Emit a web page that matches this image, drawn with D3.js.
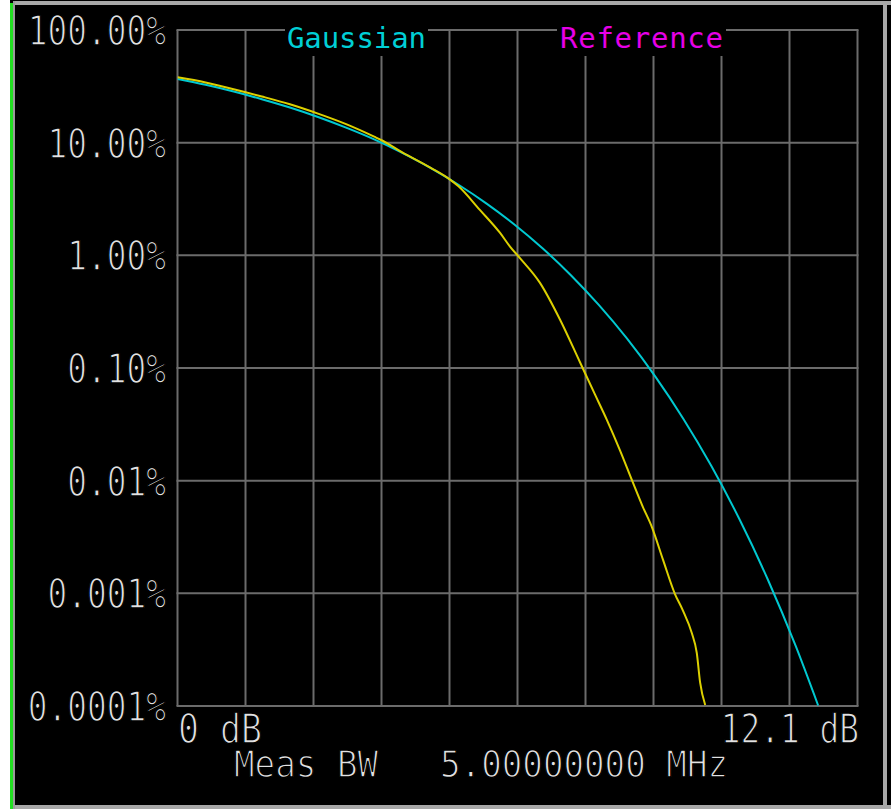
<!DOCTYPE html>
<html>
<head>
<meta charset="utf-8">
<script src="https://cdn.jsdelivr.net/npm/d3@7"></script>
<style>
  html, body { margin: 0; padding: 0; background: #fff; }
  svg { display: block; }
</style>
</head>
<body>
<svg id="chart" width="891" height="809"></svg>
<script>
// CCDF of signal power above average (dB) vs. probability (%)
const xMaxDb = 12.1;
const xDivisions = 10;
const yTicks = [100, 10, 1, 0.1, 0.01, 0.001, 0.0001];
const yTickLabels = ["100.00%", "10.00%", "1.00%", "0.10%", "0.01%", "0.001%", "0.0001%"];

// Gaussian trace: [dB, %]
const gaussianDb  = [0, 0.5, 1.0, 1.5, 2.0, 2.5, 3.0, 3.5, 4.0, 4.5, 5.0, 5.5, 6.0, 6.5, 7.0, 7.5, 8.0, 8.5, 9.0, 9.5, 10.0, 10.5, 11.0, 11.4];
const gaussianPct = [36.8, 32.6, 28.4, 24.3, 20.5, 16.9, 13.6, 10.7, 8.11, 5.97, 4.23, 2.88, 1.87, 1.15, 0.666, 0.361, 0.182, 0.0843, 0.0355, 0.0135, 0.00454, 0.00134, 0.000341, 0.000101];

// Measured trace: [dB, %]
const measuredDb  = [0, 0.5, 1.0, 1.5, 2.0, 2.5, 3.0, 3.5, 3.65, 4.0, 4.5, 4.85, 5.0, 5.38, 5.74, 5.92, 6.09, 6.45, 6.81, 7.16, 7.43, 7.64, 7.87, 8.09, 8.28, 8.44, 8.64, 8.85, 8.99, 9.15, 9.24, 9.30, 9.39];
const measuredPct = [38.0, 34.2, 29.8, 25.7, 21.9, 18.1, 14.6, 11.3, 10.4, 8.2, 6.0, 4.7, 4.1, 2.53, 1.58, 1.19, 0.95, 0.57, 0.267, 0.113, 0.058, 0.0347, 0.0188, 0.0100, 0.00586, 0.00389, 0.00198, 0.00099, 0.00071, 0.000446, 0.000296, 0.000161, 0.000102];

const legendItems = [
  { name: "Gaussian",  color: "#00cfd6" },
  { name: "Reference", color: "#e600e6" }
];
const xStartLabel = "0 dB";
const xEndLabel = "12.1 dB";
const bwLabel = "Meas BW";
const bwValue = "5.00000000 MHz";

const svg = d3.select("#chart");
const W = 891, H = 809;

// instrument screen frame
svg.append("rect").attr("x", 0).attr("y", 0).attr("width", W).attr("height", H).attr("fill", "#000");
svg.append("rect").attr("x", 0).attr("y", 0).attr("width", 10).attr("height", H).attr("fill", "#fff");
svg.append("rect").attr("x", 10).attr("y", 3).attr("width", 3).attr("height", H - 3).attr("fill", "#22e022");
svg.append("rect").attr("x", 13).attr("y", 1).attr("width", W - 13).attr("height", 4).attr("fill", "#a8a8a8");
svg.append("rect").attr("x", 13).attr("y", 805).attr("width", W - 13).attr("height", 4).attr("fill", "#a8a8a8");
svg.append("rect").attr("x", 13).attr("y", 1).attr("width", 2).attr("height", H - 1).attr("fill", "#9a9a9a");
svg.append("rect").attr("x", 883).attr("y", 1).attr("width", 4).attr("height", H - 1).attr("fill", "#a8a8a8");

const plotLeft = 177.5, plotRight = 857.5, plotTop = 30, plotBottom = 706;

const x = d3.scaleLinear().domain([0, xMaxDb]).range([plotLeft, plotRight]);
const y = d3.scaleLog().domain([0.0001, 100]).range([plotBottom, plotTop]);

const gridColor = "#6b6b6b";
const xGrid = d3.range(xDivisions + 1).map(i => i * xMaxDb / xDivisions);

const grid = svg.append("g");
grid.selectAll("line.v").data(xGrid).join("line")
  .attr("class", "v")
  .attr("x1", d => x(d)).attr("x2", d => x(d))
  .attr("y1", plotTop).attr("y2", plotBottom)
  .attr("stroke", gridColor).attr("stroke-width", 2);
grid.selectAll("line.h").data(yTicks).join("line")
  .attr("class", "h")
  .attr("x1", plotLeft - 1).attr("x2", plotRight + 1)
  .attr("y1", d => y(d)).attr("y2", d => y(d))
  .attr("stroke", gridColor).attr("stroke-width", 2);

// traces
svg.append("clipPath").attr("id", "plotClip")
  .append("rect").attr("x", plotLeft).attr("y", plotTop).attr("width", plotRight - plotLeft).attr("height", plotBottom - plotTop + 1);

const line = d3.line().x(d => x(d[0])).y(d => y(d[1])).curve(d3.curveMonotoneX);
const gaussian = d3.zip(gaussianDb, gaussianPct);
const measured = d3.zip(measuredDb, measuredPct);

const traces = svg.append("g").attr("clip-path", "url(#plotClip)");
traces.append("path").datum(gaussian).attr("d", line)
  .attr("fill", "none").attr("stroke", "#00c8d0").attr("stroke-width", 2);
traces.append("path").datum(measured).attr("d", line)
  .attr("fill", "none").attr("stroke", "#dcd000").attr("stroke-width", 2);

// legend labels sit on black boxes that break the top grid line
const legendX = [{ x0: 285, x1: 428, tx: 287, len: 139 }, { x0: 557, x1: 726, tx: 560, len: 163 }];
legendItems.forEach((item, i) => {
  const p = legendX[i];
  svg.append("rect").attr("x", p.x0).attr("y", 22).attr("width", p.x1 - p.x0).attr("height", 34).attr("fill", "#000");
  svg.append("text").attr("x", p.tx).attr("y", 48)
    .attr("font-family", "'DejaVu Sans Mono', monospace").attr("font-size", 29)
    .attr("textLength", p.len).attr("lengthAdjust", "spacing")
    .attr("fill", item.color).text(item.name);
});

// monospace screen text, thinned by a black stroke painted over the fill
function screenText(str, tx, ty, size, sx, anchor) {
  return svg.append("text")
    .attr("transform", `translate(${tx},${ty}) scale(${sx},1)`)
    .attr("text-anchor", anchor)
    .attr("font-family", "'DejaVu Sans Mono', monospace")
    .attr("font-size", size)
    .attr("fill", "#e2e2e2")
    .attr("stroke", "#000").attr("stroke-width", 1.4)
    .text(str);
}

yTicks.forEach((v, i) => screenText(yTickLabels[i], 166, y(v) + 15, 40, 0.82, "end"));

screenText(xStartLabel, 178, 743, 41, 0.85, "start");
screenText(xEndLabel, 859, 743, 41, 0.80, "end");
screenText(bwLabel, 234, 777, 38, 0.90, "start");
screenText(bwValue, 440, 777, 38, 0.90, "start");
</script>
</body>
</html>
